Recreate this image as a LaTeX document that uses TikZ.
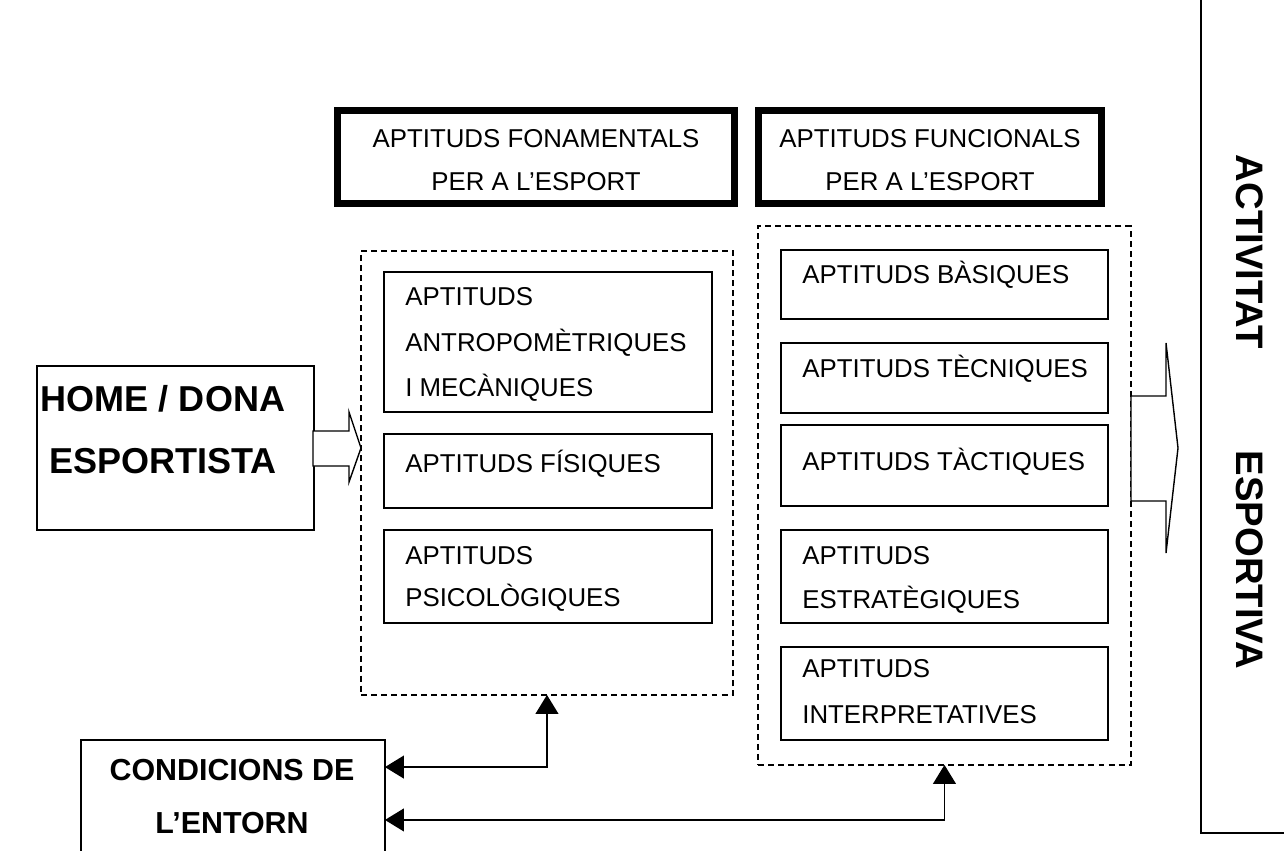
\documentclass[tikz,border=0pt]{standalone}
\usepackage{fontspec}
\setmainfont{Liberation Sans}
\usetikzlibrary{arrows.meta}

% one unit = 0.02cm = 0.569pt
\newcommand{\unitpt}{0.5690551pt}

\begin{document}
\begin{tikzpicture}[x=0.02cm,y=-0.02cm,
  size/.style 2 args={minimum width=#1*\unitpt, minimum height=#2*\unitpt},
  plainbox/.style={draw, line width=0.8pt, anchor=north west, inner sep=0pt, outer sep=0pt},
  groupbox/.style={draw, line width=0.8pt, dash pattern=on 3.4pt off 2.3pt, anchor=north west, inner sep=0pt, outer sep=0pt},
  txt/.style={font=\fontsize{14.7pt}{17pt}\selectfont, inner sep=0pt, anchor=base west},
  ctxt/.style={font=\fontsize{14.7pt}{17pt}\selectfont, inner sep=0pt, anchor=base},
  bigtxt/.style={font=\fontsize{20.5pt}{24pt}\selectfont\bfseries, inner sep=0pt, anchor=base},
  midtxt/.style={font=\fontsize{17.3pt}{20pt}\selectfont\bfseries, inner sep=0pt, anchor=base},
  sidetxt/.style={font=\fontsize{21.8pt}{26pt}\selectfont\bfseries, inner sep=0pt, rotate=-90},
  link/.style={line width=0.8pt, {Triangle[length=10.8pt, width=13pt]}-{Triangle[length=10.8pt, width=13pt]}},
  blockarrow/.style={draw, line width=0.8pt, fill=white, line join=miter},
  headbox/.style={draw, line width=3.98pt}
]
\useasboundingbox (0,0) rectangle (1284,850);

% person
\node[plainbox, size={277}{164}] (home) at (37,366) {};
\node[bigtxt] (home1) at (163,411) {HOME / DONA};
\node[bigtxt] (home2) at (163,473) {ESPORTISTA};

% fundamental aptitudes
\node[groupbox, size={372}{444}] (fon) at (361,251) {};
\node[plainbox, size={328}{140}] (a1) at (384,272) {};
\node[txt] (a1t1) at (405,305) {APTITUDS};
\node[txt] (a1t2) at (405,351) {ANTROPOMÈTRIQUES};
\node[txt] (a1t3) at (405,396) {I MECÀNIQUES};
\node[plainbox, size={328}{74}] (a2) at (384,434) {};
\node[txt] (a2t1) at (405,472) {APTITUDS FÍSIQUES};
\node[plainbox, size={328}{93}] (a3) at (384,530) {};
\node[txt] (a3t1) at (405,564) {APTITUDS};
\node[txt] (a3t2) at (405,606) {PSICOLÒGIQUES};

% functional aptitudes
\node[groupbox, size={373}{539}] (fun) at (758,226) {};
\node[plainbox, size={327}{69}] (b1) at (781,250) {};
\node[txt] (b1t1) at (802,283) {APTITUDS BÀSIQUES};
\node[plainbox, size={327}{70}] (b2) at (781,343) {};
\node[txt] (b2t1) at (802,377) {APTITUDS TÈCNIQUES};
\node[plainbox, size={327}{81}] (b3) at (781,425) {};
\node[txt] (b3t1) at (802,470) {APTITUDS TÀCTIQUES};
\node[plainbox, size={327}{93}] (b4) at (781,530) {};
\node[txt] (b4t1) at (802,564) {APTITUDS};
\node[txt] (b4t2) at (802,608) {ESTRATÈGIQUES};
\node[plainbox, size={327}{93}] (b5) at (781,647) {};
\node[txt] (b5t1) at (802,677) {APTITUDS};
\node[txt] (b5t2) at (802,723) {INTERPRETATIVES};

% headings
\draw[headbox] (337.5,110.5) rectangle (734.5,203.5);
\node[ctxt] (h1t1) at (536,147) {APTITUDS FONAMENTALS};
\node[ctxt] (h1t2) at (536,190) {PER A L’ESPORT};
\draw[headbox] (758.5,110.5) rectangle (1101.5,203.5);
\node[ctxt] (h2t1) at (930,147) {APTITUDS FUNCIONALS};
\node[ctxt] (h2t2) at (930,190) {PER A L’ESPORT};

% block arrows
\draw[blockarrow] (313,431) -- (349,431) -- (349,412) -- (361,448) -- (349,482) -- (349,466) -- (313,466) -- cycle;
\draw[blockarrow] (1131,396) -- (1166,396) -- (1166,343) -- (1178,448) -- (1166,553) -- (1166,501) -- (1131,501) -- cycle;

% environment
\node[plainbox, size={304}{140}] (cond) at (81,740) {};
\node[midtxt] (cond1) at (232,780) {CONDICIONS DE};
\node[midtxt] (cond2) at (232,833) {L’ENTORN};

\draw[link] (fon.south) |- ([yshift=-15.4pt]cond.north east);
\draw[link] (fun.south) |- ([yshift=-45.5pt]cond.north east);

% sporting activity
\draw[line width=0.8pt] (1201,-10) -- (1201,833) -- (1300,833);
\node[sidetxt] (act1) at (1250,252) {ACTIVITAT};
\node[sidetxt] (act2) at (1250,560) {ESPORTIVA};
\end{tikzpicture}
\end{document}
